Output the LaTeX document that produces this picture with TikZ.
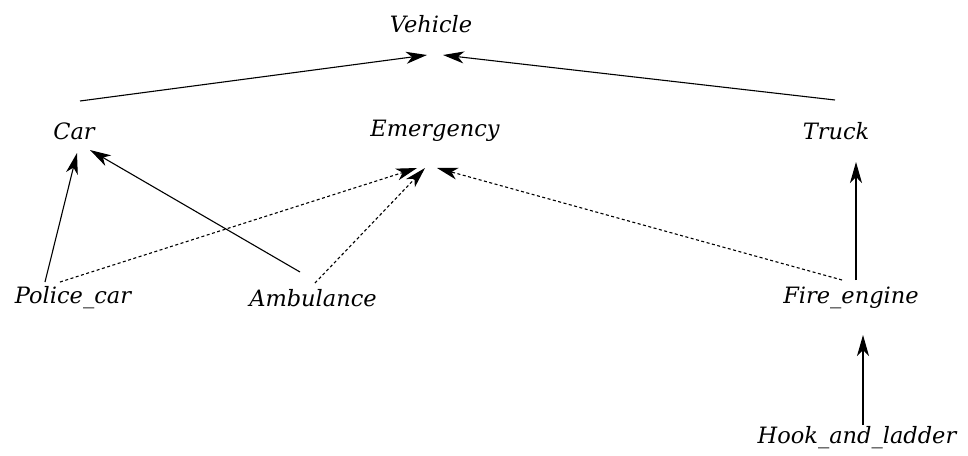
\documentclass[tikz,border=0pt]{standalone}
\usepackage{fontspec}
\setmainfont{DejaVu Serif}
\usepackage{tikz}
\usetikzlibrary{arrows.meta,positioning}
\tikzset{
  cls/.style={font=\fontsize{22.5}{26}\selectfont\itshape,inner sep=0pt},
  isa/.style={line width=1.1pt,-{Stealth[length=21pt,width=12pt,inset=6pt]}},
  role/.style={isa,dash pattern=on 3pt off 2.5pt}
}
\begin{document}
\begin{tikzpicture}[x=1pt,y=-1pt]
  \useasboundingbox (0,0) rectangle (968,455);
  % class nodes
  \node[cls] (vehicle) at (431,24)  {Vehicle};
  \node[cls] (car)     at (74,131)  {Car};
  \node[cls] (emerg)   at (435,131) {Emergency};
  \node[cls] (truck)   at (836,131) {Truck};
  \node[cls] (police)  at (73,298)  {Police\_car};
  \node[cls] (amb)     at (313,298) {Ambulance};
  \node[cls] (fire)    at (851,298) {Fire\_engine};
  \node[cls] (hook)    at (857,438) {Hook\_and\_ladder};
  % inheritance
  \draw[isa] ([shift={(6,-30)}]car.center) -- ([shift={(-4,31)}]vehicle.center);
  \draw[isa] ([shift={(-1,-31)}]truck.center) -- ([shift={(12,31)}]vehicle.center);
  \draw[isa] ([shift={(-28,-16)}]police.center) -- ([shift={(3,22)}]car.center);
  \draw[isa] ([shift={(-13,-26)}]amb.center) -- ([shift={(16,19)}]car.center);
  \draw[isa] ([shift={(5,-18)}]fire.center) -- ([shift={(20,31)}]truck.center);
  \draw[isa] ([shift={(6,-13)}]hook.center) -- ([shift={(12,37)}]fire.center);
  % emergency role
  \draw[role] ([shift={(-13,-16)}]police.center) -- ([shift={(-18,37)}]emerg.center);
  \draw[role] ([shift={(2,-15)}]amb.center) -- ([shift={(-10,37)}]emerg.center);
  \draw[role] ([shift={(-9,-18)}]fire.center) -- ([shift={(2,37)}]emerg.center);
\end{tikzpicture}
\end{document}
